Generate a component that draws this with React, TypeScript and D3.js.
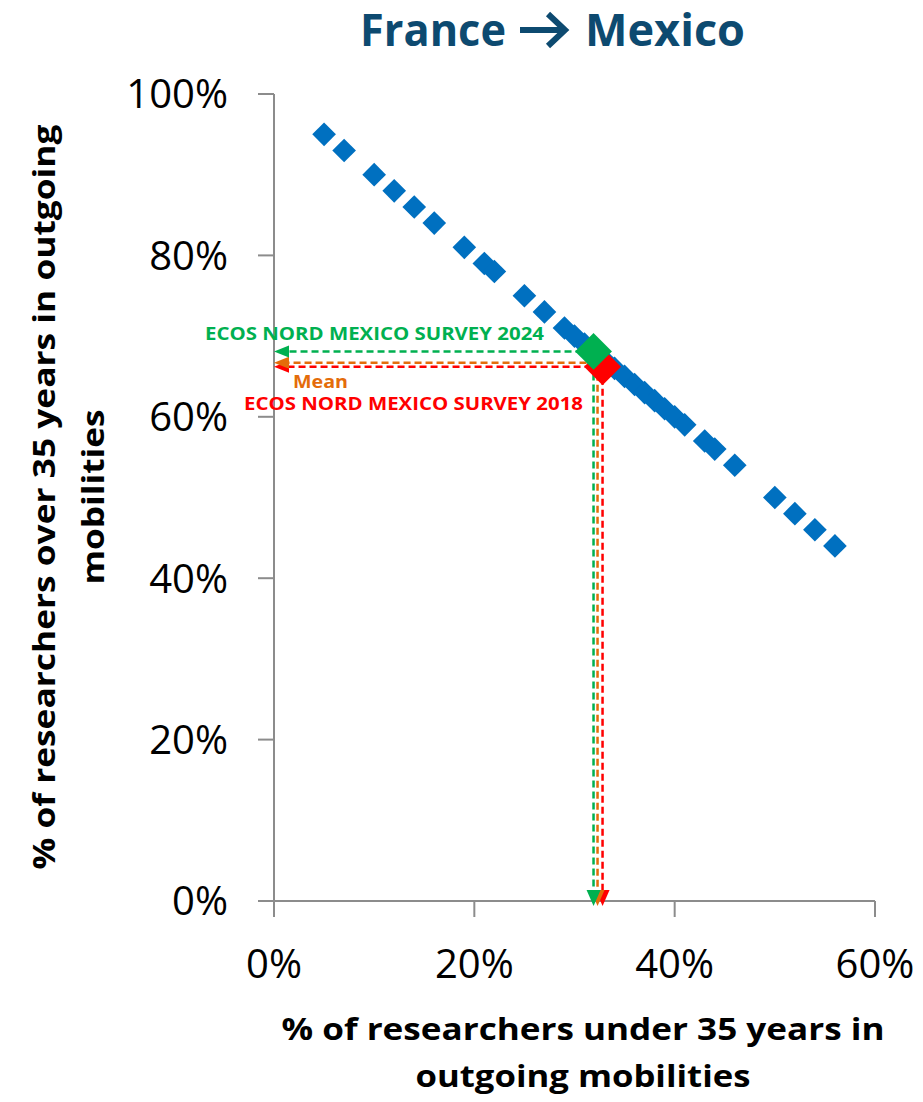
import React from "react";
import * as d3 from "d3";

// Blue series (% under 35, % over 35)
const underPct = [5, 7, 10, 12, 14, 16, 19, 21, 22, 25, 27, 29, 30, 31, 32, 33, 34, 35, 36, 37, 38, 39, 40, 41, 43, 44, 46, 50, 52, 54, 56];
const overPct = [95, 93, 90, 88, 86, 84, 81, 79, 78, 75, 73, 71, 70, 69, 68, 67, 66, 65, 64, 63, 62, 61, 60, 59, 57, 56, 54, 50, 48, 46, 44];

// Survey / mean points
const surveyNames = ["ECOS NORD MEXICO SURVEY 2018", "Mean", "ECOS NORD MEXICO SURVEY 2024"];
const surveyUnder = [32.8, 32.3, 31.9];
const surveyOver = [66.2, 66.7, 68.1];
const surveyColors = ["#FF0000", "#E46C0A", "#00B050"];

const xTicks = [0, 20, 40, 60];
const yTicks = [0, 20, 40, 60, 80, 100];

const titleFrom = "France";
const titleTo = "Mexico";
const xTitle = ["% of researchers under 35 years in", "outgoing mobilities"];
const yTitle = ["% of researchers over 35 years in outgoing", "mobilities"];

export default function App() {
  const W = 923, H = 1102;
  const x = d3.scaleLinear().domain([0, 60]).range([274, 875]);
  const y = d3.scaleLinear().domain([0, 100]).range([901, 94]);
  const diamondSmall = d3.symbol().type(d3.symbolSquare).size(280)();
  const diamondBig = d3.symbol().type(d3.symbolSquare).size(680)();
  const axisColor = "#8C8C8C";
  const font = "'Open Sans', 'DejaVu Sans', sans-serif";
  const titleColor = "#0D4A70";

  const labelPos = [
    { x: 244, y: 410, len: 339 },
    { x: 293, y: 388, len: 55 },
    { x: 205, y: 340, len: 339 },
  ];

  return (
    <svg width={W} height={H} style={{ position: "absolute", left: 0, top: 0, background: "#fff" }} fontFamily={font}>
      {/* Title */}
      <text x={360} y={46} textAnchor="start" fontSize={44} fontWeight={700} fill={titleColor} textLength={146} lengthAdjust="spacingAndGlyphs">
        {titleFrom}
      </text>
      <path d="M520,30 L562,30 M548,14 L565,30 L548,46" fill="none" stroke={titleColor} strokeWidth={6} strokeLinejoin="miter" />
      <text x={585} y={46} textAnchor="start" fontSize={44} fontWeight={700} fill={titleColor} textLength={160} lengthAdjust="spacingAndGlyphs">
        {titleTo}
      </text>

      {/* Axes */}
      <line x1={x(0)} x2={x(0)} y1={y(100)} y2={y(0) + 16} stroke={axisColor} strokeWidth={2} />
      <line x1={x(0) - 16} x2={x(60)} y1={y(0)} y2={y(0)} stroke={axisColor} strokeWidth={2} />
      {yTicks.map((t) => (
        <g key={"yt" + t}>
          <line x1={x(0) - 16} x2={x(0)} y1={y(t)} y2={y(t)} stroke={axisColor} strokeWidth={2} />
          <text x={228} y={y(t)} dy="0.36em" textAnchor="end" fontSize={40} fill="#000">{t + "%"}</text>
        </g>
      ))}
      {xTicks.map((t) => (
        <g key={"xt" + t}>
          <line x1={x(t)} x2={x(t)} y1={y(0)} y2={y(0) + 16} stroke={axisColor} strokeWidth={2} />
          <text x={x(t)} y={978} textAnchor="middle" fontSize={40} fill="#000">{t + "%"}</text>
        </g>
      ))}

      {/* Axis titles */}
      <text x={583} y={1040} textAnchor="middle" fontSize={30} fontWeight={700} fill="#000" textLength={603} lengthAdjust="spacingAndGlyphs">{xTitle[0]}</text>
      <text x={583} y={1087} textAnchor="middle" fontSize={30} fontWeight={700} fill="#000" textLength={335} lengthAdjust="spacingAndGlyphs">{xTitle[1]}</text>
      <text transform={`translate(55,497) rotate(-90)`} textAnchor="middle" fontSize={30} fontWeight={700} fill="#000" textLength={745} lengthAdjust="spacingAndGlyphs">{yTitle[0]}</text>
      <text transform={`translate(104,497) rotate(-90)`} textAnchor="middle" fontSize={30} fontWeight={700} fill="#000" textLength={175} lengthAdjust="spacingAndGlyphs">{yTitle[1]}</text>

      {/* Blue points */}
      {underPct.map((u, i) => (
        <path key={"p" + i} d={diamondSmall} transform={`translate(${x(u)},${y(overPct[i])}) rotate(45)`} fill="#0070C0" />
      ))}

      {/* Dashed guide lines with arrows */}
      {surveyUnder.map((u, i) => {
        const px = x(u), py = y(surveyOver[i]);
        const c = surveyColors[i];
        const x0 = x(0), y0 = y(0);
        return (
          <g key={"g" + i}>
            <line x1={px} x2={x0 + 12} y1={py} y2={py} stroke={c} strokeWidth={2.5} strokeDasharray="7,4" />
            <line x1={px} x2={px} y1={py} y2={y0 - 10} stroke={c} strokeWidth={2.5} strokeDasharray="7,4" />
            <path d={`M${x0},${py} L${x0 + 15},${py - 6} L${x0 + 15},${py + 6} Z`} fill={c} />
            <path d={`M${px},${y0 + 5} L${px - 7},${y0 - 11} L${px + 7},${y0 - 11} Z`} fill={c} />
          </g>
        );
      })}

      {/* Survey diamonds (red then green on top; mean has no marker) */}
      <path d={diamondBig} transform={`translate(${x(surveyUnder[0])},${y(surveyOver[0])}) rotate(45)`} fill={surveyColors[0]} />
      <path d={diamondBig} transform={`translate(${x(surveyUnder[2])},${y(surveyOver[2])}) rotate(45)`} fill={surveyColors[2]} />

      {/* Labels */}
      {surveyNames.map((n, i) => (
        <text key={"l" + i} x={labelPos[i].x} y={labelPos[i].y} textAnchor="start" fontSize={17} fontWeight={700} fill={surveyColors[i]} textLength={labelPos[i].len} lengthAdjust="spacingAndGlyphs">
          {n}
        </text>
      ))}
    </svg>
  );
}
